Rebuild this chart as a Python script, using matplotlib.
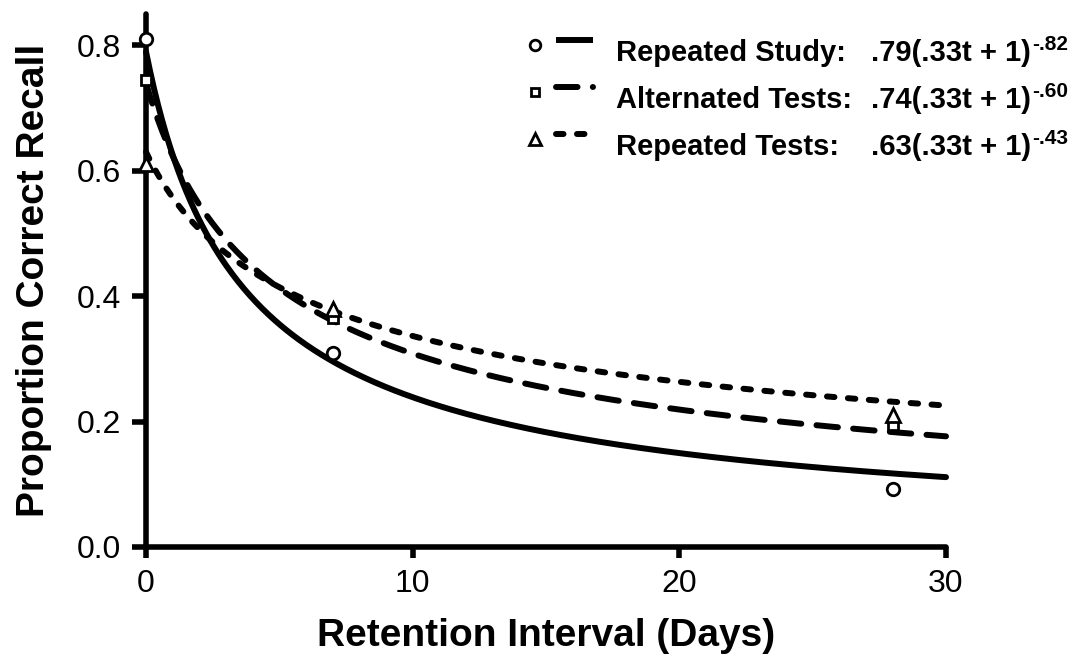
import matplotlib
matplotlib.use("Agg")
import matplotlib.pyplot as plt
import numpy as np
from matplotlib.lines import Line2D

plt.rcParams["font.family"] = ["Liberation Sans", "DejaVu Sans"]
plt.rcParams["lines.scale_dashes"] = False

# observed recall at each retention interval (days)
days = [0, 7, 28]
study_obs = [0.81, 0.31, 0.093]
alt_obs = [0.745, 0.365, 0.195]
tests_obs = [0.61, 0.38, 0.21]

# fitted power functions a(b*t + 1)^-c, as printed in the legend
names = ["Repeated Study:", "Alternated Tests:", "Repeated Tests:"]
fit_a = [0.79, 0.74, 0.63]
fit_b = [0.33, 0.33, 0.33]
fit_c = [0.82, 0.60, 0.43]
fit_base = [".79(.33t + 1)", ".74(.33t + 1)", ".63(.33t + 1)"]
fit_exp = ["-.82", "-.60", "-.43"]

observed = [study_obs, alt_obs, tests_obs]
markers = ["o", "s", "^"]
msizes = [9, 7, 10]
dashes = [None, (15.5, 11), (5.4, 9.7)]

W, H = 1085, 656
fig = plt.figure(figsize=(W / 100, H / 100), dpi=100)
ax = fig.add_axes([146 / W, (H - 547) / H, 800 / W, 533 / H])

t = np.linspace(0, 30, 400)
lw = 4.3
for i in range(3):
    y = fit_a[i] * (fit_b[i] * t + 1) ** (-fit_c[i])
    line, = ax.plot(t, y, color="black", lw=lw, solid_capstyle="round",
                    dash_capstyle="round", zorder=3, clip_on=False)
    if dashes[i] is not None:
        line.set_dashes(dashes[i])
for i in range(3):
    ax.plot(days, observed[i], linestyle="none", marker=markers[i],
            ms=msizes[i], mfc="white", mec="black", mew=2, zorder=4,
            clip_on=False)

ax.set_xlim(0, 30)
ax.set_ylim(0, 0.85)
ax.set_xticks([0, 10, 20, 30])
ax.set_yticks([0.0, 0.2, 0.4, 0.6, 0.8])
ax.set_yticklabels(["0.0", "0.2", "0.4", "0.6", "0.8"])
for s in ["top", "right"]:
    ax.spines[s].set_visible(False)
for s in ["left", "bottom"]:
    ax.spines[s].set_linewidth(4)
    ax.spines[s].set_capstyle("round")
ax.tick_params(axis="both", width=4, labelsize=23)
ax.tick_params(axis="y", length=10, pad=8)
ax.tick_params(axis="x", length=8, pad=8)

ax.set_xlabel("Retention Interval (Days)", fontsize=28, fontweight="bold")
ax.set_ylabel("Proportion Correct Recall", fontsize=28, fontweight="bold")
ax.xaxis.set_label_coords(0.5, -(618 - 547) / 533)
ax.yaxis.set_label_coords((52 - 146) / 800, 0.5)


# hand-built legend in pixel positions
def fx(px):
    return px / W


def fy(py):
    return 1 - py / H


baselines = [61, 108, 155]
for i in range(3):
    b = baselines[i]
    fig.add_artist(Line2D([fx(535)], [fy(b - 16)], marker=markers[i],
                          ms=msizes[i] * 0.85, mfc="white", mec="black",
                          mew=2, linestyle="none", transform=fig.transFigure))
    sample = Line2D([fx(556), fx(593)], [fy(b - 21), fy(b - 21)], color="black",
                    lw=lw, solid_capstyle="butt", dash_capstyle="round",
                    transform=fig.transFigure)
    if dashes[i] is not None:
        sample.set_dashes(dashes[i])
    fig.add_artist(sample)
    fig.text(fx(616), fy(b), names[i], fontsize=21, fontweight="bold",
             ha="left", va="baseline")
    base = fig.text(fx(871), fy(b), fit_base[i], fontsize=21,
                    fontweight="bold", ha="left", va="baseline")
    ax.annotate(fit_exp[i], xy=(1.0, 1.0), xycoords=base, xytext=(1, 3),
                textcoords="offset points", fontsize=15, fontweight="bold",
                ha="left", va="top", annotation_clip=False)

fig.savefig("out.png", dpi=100)
